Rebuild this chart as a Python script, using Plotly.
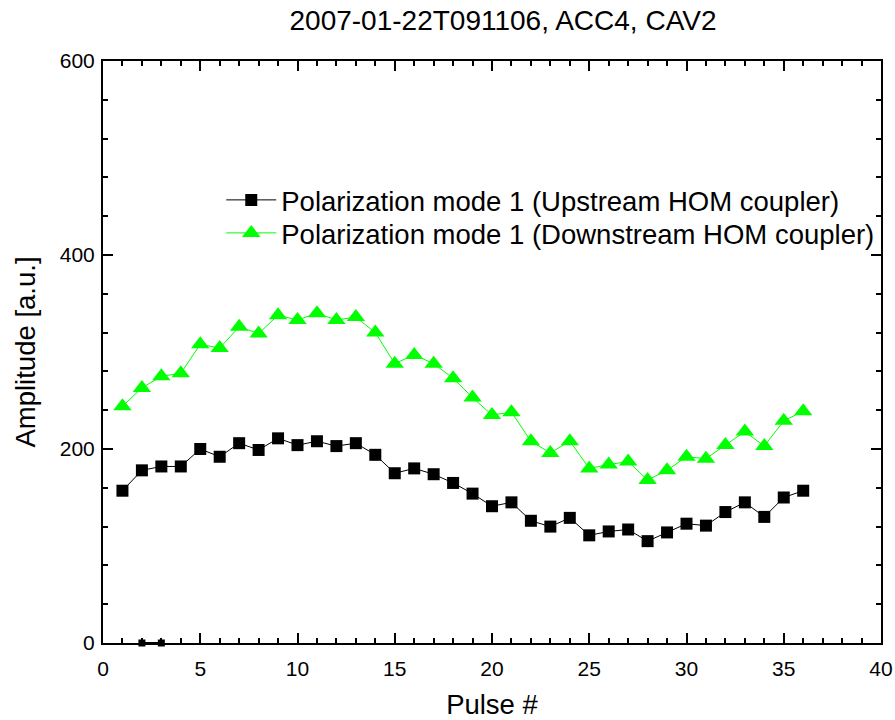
import plotly.graph_objects as go

pulse = list(range(1, 37))

upstream = [157, 178, 182, 182, 200, 192, 206, 199, 211, 204, 208, 203,
            206, 194, 175, 180, 174, 165, 154, 141, 145, 126, 120, 129,
            111, 115, 117, 105, 114, 123, 121, 135, 145, 130, 150, 157]

downstream = [244, 263, 275, 278, 308, 304, 326, 319, 338, 333, 340, 333,
              336, 320, 288, 297, 288, 273, 253, 235, 238, 208, 196, 208,
              180, 184, 187, 168, 178, 192, 190, 204, 218, 203, 229, 239]

# short stray segment lying on the zero line
stray_x = [2, 3]
stray_y = [0, 0]

font = "Liberation Sans, Arial, Helvetica, sans-serif"

fig = go.Figure()

fig.add_trace(go.Scatter(
    x=pulse, y=upstream, mode="lines+markers",
    name="Polarization mode 1 (Upstream HOM coupler)",
    line=dict(color="black", width=1),
    marker=dict(symbol="square", size=12, color="black"),
    legend="legend",
))
fig.add_trace(go.Scatter(
    x=pulse, y=downstream, mode="lines+markers",
    name="Polarization mode 1 (Downstream HOM coupler)",
    line=dict(color="#00ff00", width=1),
    marker=dict(symbol="triangle-up", size=16, color="#00ff00"),
    legend="legend2",
))
fig.add_trace(go.Scatter(
    x=stray_x, y=stray_y, mode="lines+markers", showlegend=False,
    line=dict(color="black", width=2),
    marker=dict(symbol="square", size=7, color="black"),
    cliponaxis=False,
))

axis_common = dict(
    showline=True, linewidth=2, linecolor="black", mirror="ticks",
    ticks="inside", ticklen=10, tickwidth=2, tickcolor="black",
    showgrid=False, zeroline=False,
    tickfont=dict(family=font, size=21, color="black"),
    title_font=dict(family=font, size=27.5, color="black"),
)

fig.update_xaxes(
    range=[0, 40], dtick=5, tick0=0,
    minor=dict(dtick=1, ticks="inside", ticklen=5, tickwidth=2, tickcolor="black"),
    title_text="Pulse #", title_standoff=24, ticklabelstandoff=6,
    **axis_common,
)
fig.update_yaxes(
    range=[0, 600], dtick=200, tick0=0,
    minor=dict(dtick=40, ticks="inside", ticklen=5, tickwidth=2, tickcolor="black"),
    title_text="Amplitude [a.u.]", title_standoff=16, ticklabelstandoff=2,
    **axis_common,
)

legend_common = dict(
    xanchor="left", yanchor="middle",
    bgcolor="rgba(0,0,0,0)", borderwidth=0,
    font=dict(family=font, size=27.5, color="black"),
    itemwidth=50,
)

fig.update_layout(
    width=895, height=720,
    margin=dict(l=103, r=14, t=61, b=77, autoexpand=False),
    paper_bgcolor="white", plot_bgcolor="white",
    title=dict(
        text="2007-01-22T091106, ACC4, CAV2",
        x=503 / 895, xref="container", xanchor="center",
        y=1 - 20 / 720, yref="container", yanchor="middle",
        font=dict(family=font, size=28, color="black"),
    ),
    legend=dict(x=0.152, y=(643 - 200) / 582, **legend_common),
    legend2=dict(x=0.152, y=(643 - 233) / 582, **legend_common),
    showlegend=True,
)

fig.write_html("out.html")
